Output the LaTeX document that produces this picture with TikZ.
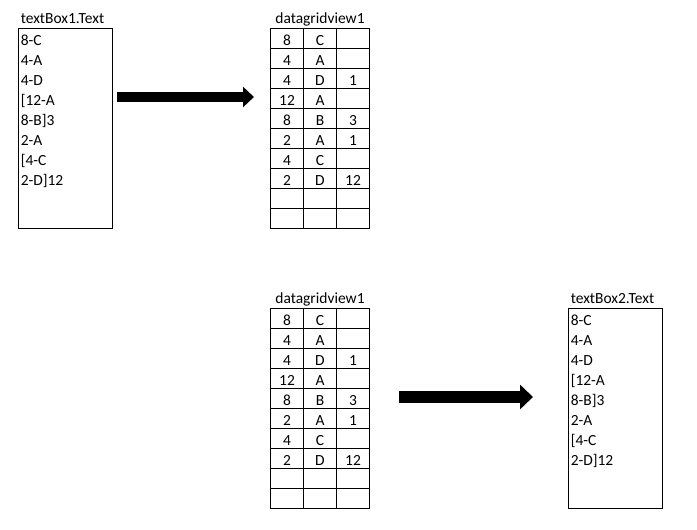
\documentclass[tikz,border=0pt]{standalone}
\usepackage{fontspec}
\setmainfont{Carlito}
\usetikzlibrary{arrows.meta}
\tikzset{
  boxline/.style={draw, line width=0.75pt, inner sep=0pt},
  textbox/.style={boxline, anchor=north west, minimum width=70.5pt, minimum height=150pt},
  cell/.style={boxline, anchor=north west, minimum width=24.75pt, minimum height=15pt, text height=11.25pt, text depth=0pt},
  txt/.style={inner sep=0pt, anchor=base west},
  bigarrow/.style={line width=7.5pt, -{Triangle[length=8.25pt,width=15pt]}},
  bigarrowb/.style={line width=9pt, -{Triangle[length=9.75pt,width=18pt]}}
}
\begin{document}
\begin{tikzpicture}[x=0.75pt,y=0.75pt,yscale=-1,xscale=1,font=\fontsize{11.6}{13}\selectfont]
    \useasboundingbox (0,0) rectangle (697,530);
    % TextBox 1
    \node [textbox] (tb1) at (18,28) {};
    \node [txt] (tb1lbl) at (20.5,24) {textBox1.Text};
    \foreach \t [count=\k from 0] in {8-C,4-A,4-D,[12-A,8-B]3,2-A,[4-C,2-D]12}
      \node [txt] (tb1l\k) at (20.5,45.5+20*\k) {\t};
    % Grid 1
    \node [inner sep=0pt, anchor=base] (g1lbl) at (320,24) {datagridview1};
    \foreach \a/\b/\c [count=\r from 0] in {8/C/{},4/A/{},4/D/1,12/A/{},8/B/3,2/A/1,4/C/{},2/D/12,{}/{}/{},{}/{}/{}} {
      \node [cell] (g1-\r-1) at (270,28+20*\r) {\a};
      \node [cell] (g1-\r-2) at (303,28+20*\r) {\b};
      \node [cell] (g1-\r-3) at (336,28+20*\r) {\c};
    }
    % Arrow 1
    \coordinate (a1s) at (117,97);
    \coordinate (a1e) at (254,97);
    \draw [bigarrow] (a1s) -- (a1e);
    % Grid 2
    \node [inner sep=0pt, anchor=base] (g2lbl) at (320,304) {datagridview1};
    \foreach \a/\b/\c [count=\r from 0] in {8/C/{},4/A/{},4/D/1,12/A/{},8/B/3,2/A/1,4/C/{},2/D/12,{}/{}/{},{}/{}/{}} {
      \node [cell] (g2-\r-1) at (270,308+20*\r) {\a};
      \node [cell] (g2-\r-2) at (303,308+20*\r) {\b};
      \node [cell] (g2-\r-3) at (336,308+20*\r) {\c};
    }
    % Arrow 2
    \coordinate (a2s) at (399,397);
    \coordinate (a2e) at (533,397);
    \draw [bigarrowb] (a2s) -- (a2e);
    % TextBox 2
    \node [textbox] (tb2) at (568,308) {};
    \node [txt] (tb2lbl) at (570.5,304) {textBox2.Text};
    \foreach \t [count=\k from 0] in {8-C,4-A,4-D,[12-A,8-B]3,2-A,[4-C,2-D]12}
      \node [txt] (tb2l\k) at (570.5,325.5+20*\k) {\t};
\end{tikzpicture}
\end{document}
